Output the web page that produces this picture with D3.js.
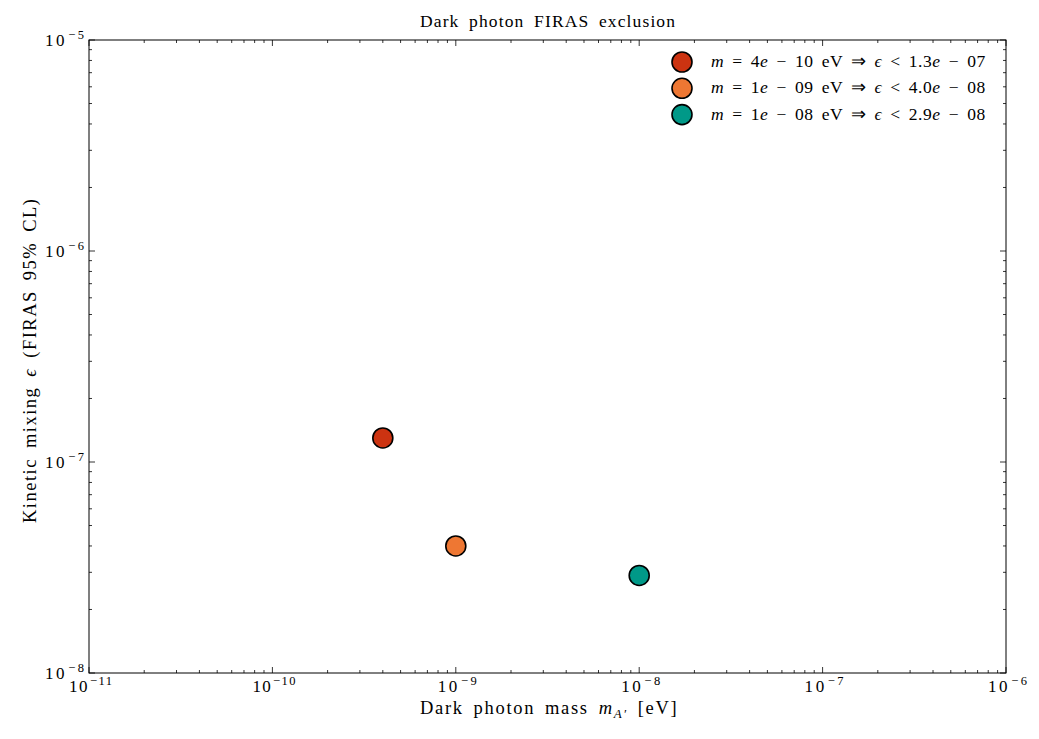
<!DOCTYPE html>
<html><head><meta charset="utf-8">
<script src="https://cdn.jsdelivr.net/npm/d3@7"></script>
<style>
body{margin:0;background:#fff;}
text{font-family:"Liberation Serif","Times New Roman",serif;fill:#000;}
</style></head>
<body><svg id="c" width="1039" height="739"></svg>
<script>
const masses = [4e-10, 1e-9, 1e-8];
const massLabels = ["4e − 10", "1e − 09", "1e − 08"];
const epsilons = [1.3e-7, 4.0e-8, 2.9e-8];
const epsLabels = ["1.3e − 07", "4.0e − 08", "2.9e − 08"];
const colors = ["#cc3311", "#ee7733", "#009988"];
const xTickExps = [-11, -10, -9, -8, -7, -6];
const yTickExps = [-8, -7, -6, -5];

const svg = d3.select("#c");
const L = 89, R = 1006, T = 40, B = 673;
const x = d3.scaleLog().domain([1e-11, 1e-6]).range([L, R]);
const y = d3.scaleLog().domain([1e-8, 1e-5]).range([B, T]);

// spread text so it spans the target width (Computer Modern is wider than Times)
function fit(sel, target, wordShare) {
  wordShare = wordShare || 0;
  const txt = sel.text();
  const n = txt.length;
  const nsp = (txt.match(/ /g) || []).length;
  const w = sel.node().getComputedTextLength();
  const extra = target - w;
  const ws = nsp ? extra * wordShare / nsp : 0;
  const ls = extra * (nsp ? 1 - wordShare : 1) / Math.max(1, n - 1);
  sel.attr("letter-spacing", ls.toFixed(3)).attr("word-spacing", ws.toFixed(3));
}

function minorVals(lo, hi) {
  const v = [];
  for (let e = lo; e < hi; e++) for (let k = 2; k <= 9; k++) v.push(k * Math.pow(10, e));
  return v;
}
const xMajor = xTickExps.map(e => Math.pow(10, e));
const yMajor = yTickExps.map(e => Math.pow(10, e));
const xMinor = minorVals(-11, -6);
const yMinor = minorVals(-8, -5);

const g = svg.append("g");
function ticks(vals, len) {
  vals.forEach(v => {
    const px = x(v);
    g.append("line").attr("x1", px).attr("x2", px).attr("y1", B).attr("y2", B - len).attr("stroke", "#000").attr("stroke-width", 0.8);
    g.append("line").attr("x1", px).attr("x2", px).attr("y1", T).attr("y2", T + len).attr("stroke", "#000").attr("stroke-width", 0.8);
  });
}
ticks(xMajor, 6); ticks(xMinor, 3);
function yticks(vals, len) {
  vals.forEach(v => {
    const py = y(v);
    g.append("line").attr("y1", py).attr("y2", py).attr("x1", L).attr("x2", L + len).attr("stroke", "#000").attr("stroke-width", 0.8);
    g.append("line").attr("y1", py).attr("y2", py).attr("x1", R).attr("x2", R - len).attr("stroke", "#000").attr("stroke-width", 0.8);
  });
}
yticks(yMajor, 6); yticks(yMinor, 3);

g.append("rect").attr("x", L).attr("y", T).attr("width", R - L).attr("height", B - T)
  .attr("fill", "none").attr("stroke", "#000").attr("stroke-width", 1);

function powLabel(parent, e) {
  const t = parent.append("text").attr("font-size", 17);
  t.append("tspan").text("10");
  t.append("tspan").attr("dy", -7).attr("dx", 1).attr("font-size", 12.5).text("−" + (-e));
  const target = (-e >= 10) ? 42 : 38;
  fit(t, target);
  return { t, w: target };
}
xTickExps.forEach(e => {
  const { t, w } = powLabel(g, e);
  t.attr("x", x(Math.pow(10, e)) - w / 2 + 1).attr("y", B + 19);
});
yTickExps.forEach(e => {
  const { t, w } = powLabel(g, e);
  t.attr("x", L - 6 - w).attr("y", y(Math.pow(10, e)) + 6);
});

const title = svg.append("text").attr("x", 420).attr("y", 27).attr("font-size", 17.5).text("Dark photon FIRAS exclusion");
fit(title, 255, 0.3);

const xl = svg.append("text").attr("x", 420).attr("y", 714).attr("font-size", 18.5);
xl.append("tspan").text("Dark photon mass ");
xl.append("tspan").attr("font-style", "italic").text("m");
xl.append("tspan").attr("font-style", "italic").attr("font-size", 13).attr("dy", 4).text("A′");
xl.append("tspan").attr("dy", -4).text("  [eV]");
fit(xl, 262, 0.3);

const yl = svg.append("text").attr("transform", "translate(36,523) rotate(-90)").attr("font-size", 18.5);
yl.append("tspan").text("Kinetic mixing ");
yl.append("tspan").attr("font-style", "italic").text("ϵ");
yl.append("tspan").text(" (FIRAS 95% CL)");
fit(yl, 324, 0.3);

svg.append("g").selectAll("circle").data(masses).join("circle")
  .attr("cx", (d) => x(d)).attr("cy", (d, i) => y(epsilons[i])).attr("r", 10)
  .attr("fill", (d, i) => colors[i]).attr("stroke", "#000").attr("stroke-width", 1.6);

const lg = svg.append("g");
masses.forEach((m, i) => {
  const cy = 62 + i * 26.3;
  lg.append("circle").attr("cx", 682).attr("cy", cy).attr("r", 10).attr("fill", colors[i]).attr("stroke", "#000").attr("stroke-width", 1.6);
  const t = lg.append("text").attr("x", 711).attr("y", cy + 5).attr("font-size", 17.5);
  t.append("tspan").attr("font-style", "italic").text("m");
  t.append("tspan").text(" = ");
  const ml = massLabels[i].split("e");
  t.append("tspan").text(ml[0]);
  t.append("tspan").attr("font-style", "italic").text("e");
  t.append("tspan").text(ml[1] + " eV ⇒  ");
  t.append("tspan").attr("font-style", "italic").text("ϵ");
  t.append("tspan").text(" < ");
  const el = epsLabels[i].split("e");
  t.append("tspan").text(el[0]);
  t.append("tspan").attr("font-style", "italic").text("e");
  t.append("tspan").text(el[1]);
  fit(t, 278, 0.7);
});
</script></body></html>
